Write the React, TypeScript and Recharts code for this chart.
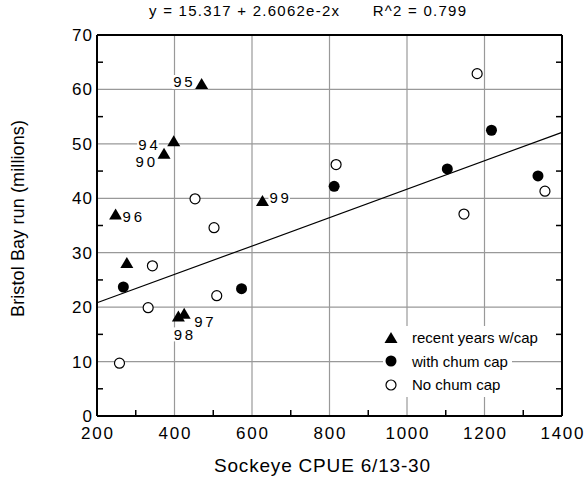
import { ScatterChart, Scatter, XAxis, YAxis, CartesianGrid, ReferenceLine, Legend, Customized } from 'recharts';

const FONT = '"Liberation Sans", Arial, Helvetica, sans-serif';

const titleText = 'y = 15.317 + 2.6062e-2x      R^2 = 0.799';
const xTitle = 'Sockeye CPUE 6/13-30';
const yTitle = 'Bristol Bay run (millions)';

const xMajorTicks = [200, 400, 600, 800, 1000, 1200, 1400];
const xMinorTicks = [300, 500, 700, 900, 1100, 1300];
const yMajorTicks = [0, 10, 20, 30, 40, 50, 60, 70];
const yMinorTicks = [5, 15, 25, 35, 45, 55, 65];

const recentYears = [
  { x: 373, y: 48.2, label: '90' },
  { x: 398, y: 50.5, label: '94' },
  { x: 470, y: 61, label: '95' },
  { x: 248, y: 37, label: '96' },
  { x: 425, y: 18.8, label: '97' },
  { x: 410, y: 18.3, label: '98' },
  { x: 627, y: 39.5, label: '99' },
  { x: 277, y: 28.1, label: '' },
];

const withChumCap = [
  { x: 268, y: 23.7 },
  { x: 573, y: 23.4 },
  { x: 812, y: 42.2 },
  { x: 1104, y: 45.4 },
  { x: 1218, y: 52.5 },
  { x: 1338, y: 44.1 },
];

const noChumCap = [
  { x: 258, y: 9.7 },
  { x: 332, y: 19.9 },
  { x: 343, y: 27.6 },
  { x: 453, y: 39.9 },
  { x: 502, y: 34.6 },
  { x: 509, y: 22.1 },
  { x: 817, y: 46.2 },
  { x: 1147, y: 37.1 },
  { x: 1181, y: 62.9 },
  { x: 1356, y: 41.3 },
];

// fitted line end points
const fitLine = [
  { x: 200, y: 20.8 },
  { x: 1400, y: 52.1 },
];

const seriesNames = ['recent years w/cap', 'with chum cap', 'No chum cap'];

// where each year label sits relative to its triangle
const labelPlacement: Record<string, { dx: number; dy: number; anchor: 'start' | 'middle' | 'end' }> = {
  '90': { dx: -9, dy: 8, anchor: 'end' },
  '94': { dx: -16, dy: 3, anchor: 'end' },
  '95': { dx: -9, dy: -2, anchor: 'end' },
  '96': { dx: 7, dy: 2, anchor: 'start' },
  '97': { dx: 10, dy: 8, anchor: 'start' },
  '98': { dx: 5, dy: 18, anchor: 'middle' },
  '99': { dx: 7, dy: -4, anchor: 'start' },
};

const TICK_MARGIN = 10;
const MINOR = 6;

function BottomTick(props: any) {
  const { x, y, payload } = props;
  const axisY = y - TICK_MARGIN;
  if (xMinorTicks.includes(payload.value)) {
    return <line x1={x} x2={x} y1={axisY} y2={axisY - MINOR} stroke="#000" strokeWidth={1.5} />;
  }
  const s = String(payload.value);
  return (
    <text x={x} y={axisY + 23} textAnchor="middle" fontSize={17} fontFamily={FONT} fill="#000"
      textLength={s.length * 10.7} lengthAdjust="spacing">
      {s}
    </text>
  );
}

function LeftTick(props: any) {
  const { x, y, payload } = props;
  const axisX = x + TICK_MARGIN;
  if (yMinorTicks.includes(payload.value)) {
    return <line x1={axisX} x2={axisX + MINOR} y1={y} y2={y} stroke="#000" strokeWidth={1.5} />;
  }
  const s = String(payload.value);
  return (
    <text x={axisX - 5} y={y + 6} textAnchor="end" fontSize={17} fontFamily={FONT} fill="#000"
      textLength={s.length * 10} lengthAdjust="spacing">
      {s}
    </text>
  );
}

function TopTick(props: any) {
  const { x, y } = props;
  const axisY = y + TICK_MARGIN;
  return <line x1={x} x2={x} y1={axisY} y2={axisY + MINOR} stroke="#000" strokeWidth={1.5} />;
}

function RightTick(props: any) {
  const { x, y } = props;
  const axisX = x - TICK_MARGIN;
  return <line x1={axisX} x2={axisX - MINOR} y1={y} y2={y} stroke="#000" strokeWidth={1.5} />;
}

function TriangleShape(props: any) {
  const { cx, cy, payload } = props;
  const place = labelPlacement[payload.label];
  const w = 19.5;
  let boxX = 0;
  if (place) {
    const tx = cx + place.dx;
    boxX = place.anchor === 'start' ? tx : place.anchor === 'end' ? tx - w : tx - w / 2;
  }
  return (
    <g>
      <polygon points={`${cx},${cy - 6} ${cx - 6.5},${cy + 5} ${cx + 6.5},${cy + 5}`} fill="#000" />
      {place && (
        <g>
          <rect x={boxX - 1} y={cy + place.dy - 7} width={w + 2} height={14} fill="#fff" />
          <text x={cx + place.dx} y={cy + place.dy + 5.5} textAnchor={place.anchor} fontSize={15}
            fontFamily={FONT} fill="#000" textLength={w} lengthAdjust="spacing">
            {payload.label}
          </text>
        </g>
      )}
    </g>
  );
}

function FilledCircle(props: any) {
  const { cx, cy } = props;
  return <circle cx={cx} cy={cy} r={5.5} fill="#000" />;
}

function OpenCircle(props: any) {
  const { cx, cy } = props;
  return <circle cx={cx} cy={cy} r={5} fill="#fff" stroke="#000" strokeWidth={1.2} />;
}

function LegendIcon({ name }: { name: string }) {
  if (name === seriesNames[0]) return <polygon points="8,2 1.5,13 14.5,13" fill="#000" />;
  if (name === seriesNames[1]) return <circle cx={8} cy={8} r={5.5} fill="#000" />;
  return <circle cx={8} cy={8} r={5} fill="#fff" stroke="#000" strokeWidth={1.2} />;
}

function LegendContent(props: any) {
  const items = [...(props.payload || [])].sort(
    (a: any, b: any) => seriesNames.indexOf(a.value) - seriesNames.indexOf(b.value)
  );
  return (
    <div>
      {items.map((entry: any) => (
        <div key={entry.value}
          style={{ display: 'flex', alignItems: 'center', height: 23.5, width: 'fit-content', background: '#fff', paddingRight: 4 }}>
          <svg width={16} height={16} style={{ flexShrink: 0 }}>
            <LegendIcon name={entry.value} />
          </svg>
          <span style={{ marginLeft: 13, fontFamily: FONT, fontSize: 15, color: '#000', whiteSpace: 'nowrap' }}>
            {entry.value}
          </span>
        </div>
      ))}
    </div>
  );
}

function ChartTitles() {
  return (
    <g fontFamily={FONT} fill="#000">
      <text x={149} y={16} fontSize={15} textLength={317} lengthAdjust="spacing" style={{ whiteSpace: 'pre' }}>
        {titleText}
      </text>
      <text x={214} y={472} fontSize={19} textLength={216} lengthAdjust="spacing">{xTitle}</text>
      <text transform="translate(24,218.5) rotate(-90)" textAnchor="middle" fontSize={18}
        textLength={197} lengthAdjust="spacing">
        {yTitle}
      </text>
    </g>
  );
}

const axisLine = { stroke: '#000', strokeWidth: 2 };

export default function App() {
  const xAll = [...xMajorTicks, ...xMinorTicks].sort((a, b) => a - b);
  const yAll = [...yMajorTicks, ...yMinorTicks].sort((a, b) => a - b);

  return (
    <div style={{ position: 'absolute', left: 0, top: 0, width: 587, height: 484, background: '#fff' }}>
      <ScatterChart width={587} height={484} margin={{ top: 34, right: 24, bottom: 0, left: 0 }}>
        <CartesianGrid stroke="#999" strokeWidth={1.2} verticalValues={xMajorTicks} horizontalValues={yMajorTicks} />
        <XAxis dataKey="x" type="number" domain={[200, 1400]} ticks={xAll} interval={0}
          tickLine={false} tickSize={0} tickMargin={TICK_MARGIN} tick={<BottomTick />}
          axisLine={axisLine} height={68} allowDataOverflow />
        <XAxis xAxisId="top" orientation="top" type="number" domain={[200, 1400]} ticks={xMinorTicks}
          interval={0} tickLine={false} tickSize={0} tickMargin={TICK_MARGIN} tick={<TopTick />}
          axisLine={axisLine} height={1} allowDataOverflow />
        <YAxis dataKey="y" type="number" domain={[0, 70]} ticks={yAll} interval={0}
          tickLine={false} tickSize={0} tickMargin={TICK_MARGIN} tick={<LeftTick />}
          axisLine={axisLine} width={97} allowDataOverflow />
        <YAxis yAxisId="right" orientation="right" type="number" domain={[0, 70]} ticks={yMinorTicks}
          interval={0} tickLine={false} tickSize={0} tickMargin={TICK_MARGIN} tick={<RightTick />}
          axisLine={axisLine} width={1} allowDataOverflow />
        <ReferenceLine segment={fitLine} stroke="#000" strokeWidth={1.2} />
        <Scatter name={seriesNames[0]} data={recentYears} shape={TriangleShape} isAnimationActive={false} />
        <Scatter name={seriesNames[1]} data={withChumCap} shape={FilledCircle} isAnimationActive={false} />
        <Scatter name={seriesNames[2]} data={noChumCap} shape={OpenCircle} isAnimationActive={false} />
        <Legend layout="vertical" align="center" verticalAlign="middle" content={LegendContent}
          wrapperStyle={{ left: 383, top: 326, width: 170 }} />
        <Customized component={<ChartTitles />} />
      </ScatterChart>
    </div>
  );
}
